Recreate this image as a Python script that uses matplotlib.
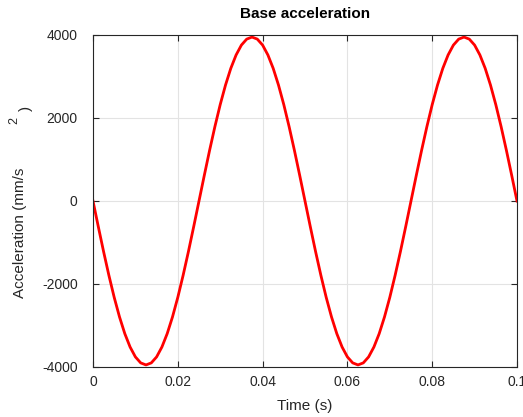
import matplotlib
matplotlib.use("Agg")
import matplotlib.pyplot as plt

plt.rcParams['font.family'] = ['Liberation Sans', 'DejaVu Sans']

time_s = [i * 0.00125 for i in range(81)]
accel = [0, -618, -1221, -1793, -2322, -2793, -3196, -3519, -3757, -3901,
         -3950, -3901, -3757, -3519, -3196, -2793, -2322, -1793, -1221, -618,
         0, 618, 1221, 1793, 2322, 2793, 3196, 3519, 3757, 3901,
         3950, 3901, 3757, 3519, 3196, 2793, 2322, 1793, 1221, 618,
         0, -618, -1221, -1793, -2322, -2793, -3196, -3519, -3757, -3901,
         -3950, -3901, -3757, -3519, -3196, -2793, -2322, -1793, -1221, -618,
         0, 618, 1221, 1793, 2322, 2793, 3196, 3519, 3757, 3901,
         3950, 3901, 3757, 3519, 3196, 2793, 2322, 1793, 1221, 618, 0]
xticks = [0, 0.02, 0.04, 0.06, 0.08, 0.1]
xticklabels = ['0', '0.02', '0.04', '0.06', '0.08', '0.1']
yticks = [-4000, -2000, 0, 2000, 4000]
yticklabels = ['-4000', '-2000', '0', '2000', '4000']

fig = plt.figure(figsize=(5.23, 4.17), dpi=100)
ax = fig.add_axes([93/523, 1-367/417, (517-93)/523, (367-35)/417])
ax.plot(time_s, accel, color='#ff0000', lw=2)
ax.set_xlim(0, 0.1)
ax.set_ylim(-4000, 4000)
ax.set_xticks(xticks)
ax.set_xticklabels(xticklabels)
ax.set_yticks(yticks)
ax.set_yticklabels(yticklabels)
ax.grid(True, color='#e3e3e3', lw=0.8)
ax.set_axisbelow(True)
ax.tick_params(direction='in', top=True, right=True, length=4, width=0.8,
               labelsize=10, colors='#262626')
ax.tick_params(axis='y', pad=11)
ax.tick_params(axis='x', pad=6)
for s in ax.spines.values():
    s.set_color('#262626')
    s.set_linewidth(0.8)
ax.set_title('Base acceleration', fontsize=11, fontweight='bold', pad=12)
ax.set_xlabel('Time (s)', fontsize=11, color='#262626', labelpad=7)
fig.text(20/523, 1-233/417, 'Acceleration (mm/s', rotation=90, fontsize=11,
         color='#262626', ha='center', va='center')
fig.text(14/523, 1-120/417, '2', rotation=90, fontsize=9,
         color='#262626', ha='center', va='center')
fig.text(26/523, 1-108/417, ')', rotation=90, fontsize=11,
         color='#262626', ha='center', va='center')
fig.savefig('out.png', dpi=100)
